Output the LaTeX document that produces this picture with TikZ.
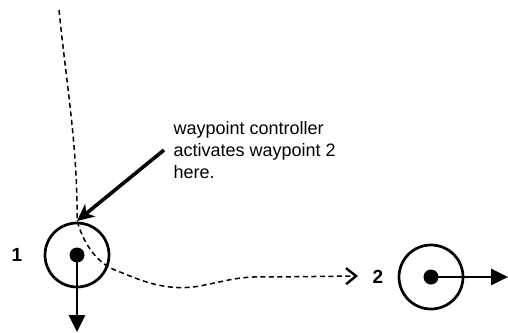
\documentclass[tikz,border=0pt]{standalone}
\usepackage{fontspec}
\setmainfont{Liberation Sans}
\usetikzlibrary{arrows.meta}
\begin{document}
\begin{tikzpicture}[x=1pt,y=-1pt,
  waypoint/.style={circle,draw,line width=2.7pt,minimum size=64pt,inner sep=0pt},
  hub/.style={circle,fill,minimum size=15pt,inner sep=0pt},
  heading/.style={line width=2.8pt,-{Triangle[length=17pt,width=16pt]}},
  pathline/.style={line width=1.5pt,dash pattern=on 5pt off 3.5pt,-{Straight Barb[length=10pt,width=16pt,line width=2.4pt]}},
  pointer/.style={line width=3.6pt,-{Stealth[length=17pt,width=16pt,inset=5pt]}},
  num/.style={font=\fontsize{19}{22}\selectfont\bfseries}]
\useasboundingbox (0,0) rectangle (508,332);
% waypoint 1
\node[waypoint] (w1) at (77,255) {};
\node[hub] (h1) at (77,255) {};
\coordinate (d1) at (77,332);
\node[num] (l1) at (17,255) {1};
% waypoint 2
\node[waypoint] (w2) at (431,277) {};
\node[hub] (h2) at (431,277) {};
\coordinate (d2) at (508,277);
\node[num] (l2) at (378,277) {2};
% headings
\draw[heading] (h1.center) -- (d1);
\draw[heading] (h2.center) -- (d2);
% path followed by the vehicle
\coordinate (start) at (59,10);
\coordinate (stop) at (358,276);
\draw[pathline] (start) .. controls (66,80) and (78,150) .. (77,220)
  .. controls (82,240) and (95,262) .. (115,270)
  .. controls (140,280) and (165,292) .. (200,286)
  .. controls (230,280) and (240,276) .. (270,277)
  -- (stop);
% annotation
\node[anchor=north west,align=left,font=\fontsize{18}{22}\selectfont] (note) at (170,118)
  {waypoint controller\\activates waypoint 2\\here.};
\coordinate (ps) at (164,150);
\coordinate (pe) at (77,221);
\draw[pointer] (ps) -- (pe);
\end{tikzpicture}
\end{document}
